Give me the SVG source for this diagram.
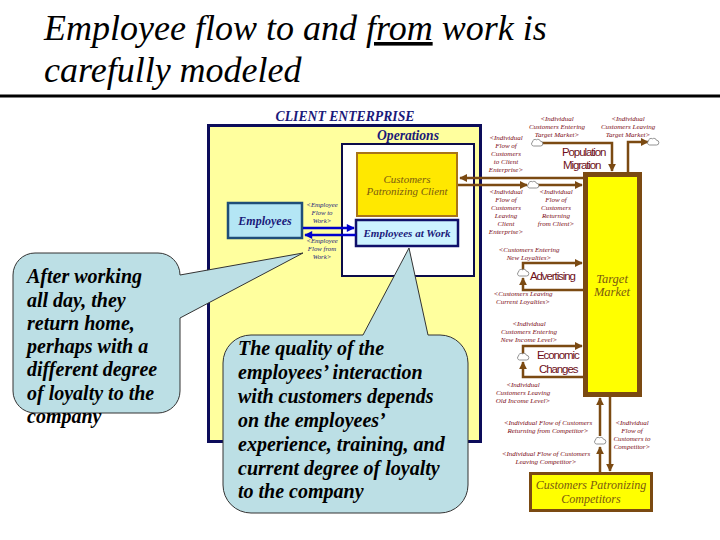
<svg xmlns="http://www.w3.org/2000/svg" xmlns:xlink="http://www.w3.org/1999/xlink" width="720" height="540" viewBox="0 0 720 540">
<style>
.title{font-family:'Liberation Serif','Times New Roman','DejaVu Serif',serif;font-style:italic;font-size:36px;fill:#000}
.call{font-family:'Liberation Serif','Times New Roman','DejaVu Serif',serif;font-style:italic;font-weight:bold;font-size:20px;fill:#000}
.lbl{font-family:'Liberation Serif','Times New Roman','DejaVu Serif',serif;font-style:italic;font-size:7px;fill:#7a0a14;text-anchor:middle}
.blbl{font-family:'Liberation Serif','Times New Roman','DejaVu Serif',serif;font-style:italic;font-size:6.8px;fill:#1a1a7a;text-anchor:middle}
.sans{font-family:'Liberation Sans',Arial,sans-serif;font-size:11.5px;fill:#6e0f1a;letter-spacing:-1.1px}
.navyb{font-family:'Liberation Serif','Times New Roman','DejaVu Serif',serif;font-style:italic;font-weight:bold;fill:#1a1a7a;text-anchor:middle}
.brown{font-family:'Liberation Serif','Times New Roman','DejaVu Serif',serif;font-style:italic;fill:#7a5a10;text-anchor:middle}
.flow{stroke:#7b4a12;stroke-width:2.5;fill:none}
.arr{marker-end:url(#ab)}
.bflow{stroke:#0000cc;stroke-width:2.5;fill:none;marker-end:url(#abl)}
.callout{fill:#bcdfe5;stroke:#333;stroke-width:1}
</style>
<defs>
<marker id="ab" viewBox="0 0 10 10" refX="9" refY="5" markerWidth="3.4" markerHeight="3.2" orient="auto" markerUnits="strokeWidth"><path d="M0,0 L10,5 L0,10 z" fill="#7b4a12"/></marker>
<marker id="abl" viewBox="0 0 10 10" refX="9" refY="5" markerWidth="4" markerHeight="3.2" orient="auto" markerUnits="strokeWidth"><path d="M0,0 L10,5 L0,10 z" fill="#0000cc"/></marker>
<g id="cloud"><path d="M-3.5,3 a2.2,2.2 0 0 1 -1,-4 a2.6,2.6 0 0 1 4,-2.2 a2.6,2.6 0 0 1 4,1.5 a2.2,2.2 0 0 1 0,4.7 z" fill="#fff" stroke="#777" stroke-width="0.8"/></g>
</defs>
<rect width="720" height="540" fill="#fff"/>

<g id="title">
<text class="title" x="44" y="40">Employee flow to and <tspan style="text-decoration:underline">from</tspan> work is</text>
<text class="title" x="44" y="82">carefully modeled</text>
<line x1="0" y1="96" x2="720" y2="96" stroke="#000" stroke-width="3"/>
</g>

<g id="client-enterprise">
<rect x="208.5" y="125.5" width="272" height="316" fill="#ffff9e" stroke="#0c0c5a" stroke-width="3"/>
<text class="navyb" x="345" y="121" font-size="13.7px">CLIENT ENTERPRISE</text>
</g>

<g id="operations">
<rect x="342" y="144" width="132" height="132" fill="#fff" stroke="#0c0c4a" stroke-width="2"/>
<text class="navyb" x="408" y="140" font-size="13.6px">Operations</text>
</g>

<g id="customers-patronizing-client">
<rect x="357" y="153" width="100" height="63" fill="#ffe800" stroke="#a8741a" stroke-width="2"/>
<text class="brown" x="407" y="183" font-size="11px">Customers</text>
<text class="brown" x="407" y="195" font-size="11px">Patronizing Client</text>
</g>

<g id="employees-at-work">
<rect x="356" y="220" width="102" height="26" fill="#cdf3ff" stroke="#10106a" stroke-width="2.5"/>
<text class="navyb" x="407" y="237" font-size="11px">Employees at Work</text>
</g>

<g id="employees">
<rect x="228" y="203" width="74" height="35" fill="#b4e6f5" stroke="#1f4e79" stroke-width="2.5"/>
<text class="navyb" x="265" y="225" font-size="12px">Employees</text>
</g>

<g id="target-market">
<rect x="585.5" y="174.5" width="54" height="220" fill="#ffff00" stroke="#7b4a12" stroke-width="5"/>
<text class="brown" x="612" y="283" font-size="12.5px">Target</text>
<text class="brown" x="612" y="296" font-size="12.5px">Market</text>
</g>

<g id="customers-patronizing-competitors">
<rect x="530.5" y="473.5" width="121" height="37" fill="#ffff00" stroke="#7b4a12" stroke-width="3"/>
<text class="brown" x="591" y="489" font-size="12px">Customers Patronizing</text>
<text class="brown" x="591" y="503" font-size="12px">Competitors</text>
</g>

<g id="population-migration">
<text class="sans" x="562" y="156">Population</text>
<text class="sans" x="563" y="169">Migration</text>
</g>
<g id="advertising"><text class="sans" x="530" y="280">Advertising</text></g>
<g id="economic-changes">
<text class="sans" x="537" y="359">Economic</text>
<text class="sans" x="539" y="373">Changes</text>
</g>

<g id="connectors">
<path class="bflow" d="M303,228 H354"/>
<path class="bflow" d="M356,235 H305"/>
<path class="flow arr" d="M583,178 H460"/>
<path class="flow arr" d="M458,185 H527"/>
<path class="flow arr" d="M538,185 H582"/>
<path class="flow arr" d="M541,143 H612 V171"/>
<path class="flow arr" d="M628,172 V142 H648"/>
<path class="flow arr" d="M523,270 V263 H582"/>
<path class="flow arr" d="M584,290 H523 V278"/>
<path class="flow arr" d="M523,354 V346 H582"/>
<path class="flow arr" d="M584,377 H523 V362"/>
<path class="flow arr" d="M600,472 V447"/>
<path class="flow arr" d="M600,436 V398"/>
<path class="flow arr" d="M610,397 V471"/>
<use xlink:href="#cloud" x="533" y="185"/>
<use xlink:href="#cloud" x="537" y="143"/>
<use xlink:href="#cloud" x="653" y="142"/>
<use xlink:href="#cloud" x="523" y="273"/>
<use xlink:href="#cloud" x="523" y="357"/>
<use xlink:href="#cloud" x="600" y="441"/>
</g>

<g id="labels">
<text class="blbl" x="322" y="207">&lt;Employee</text>
<text class="blbl" x="322" y="215">Flow to</text>
<text class="blbl" x="322" y="223">Work&gt;</text>
<text class="blbl" x="322" y="243">&lt;Employee</text>
<text class="blbl" x="322" y="251">Flow from</text>
<text class="blbl" x="322" y="259">Work&gt;</text>

<text class="lbl" x="557" y="121">&lt;Individual</text>
<text class="lbl" x="557" y="129">Customers Entering</text>
<text class="lbl" x="557" y="137">Target Market&gt;</text>
<text class="lbl" x="628" y="121">&lt;Individual</text>
<text class="lbl" x="628" y="129">Customers Leaving</text>
<text class="lbl" x="628" y="137">Target Market&gt;</text>
<text class="lbl" x="506" y="140">&lt;Individual</text>
<text class="lbl" x="506" y="148">Flow of</text>
<text class="lbl" x="506" y="156">Customers</text>
<text class="lbl" x="506" y="164">to Client</text>
<text class="lbl" x="506" y="172">Enterprise&gt;</text>
<text class="lbl" x="506" y="194">&lt;Individual</text>
<text class="lbl" x="506" y="202">Flow of</text>
<text class="lbl" x="506" y="210">Customers</text>
<text class="lbl" x="506" y="218">Leaving</text>
<text class="lbl" x="506" y="226">Client</text>
<text class="lbl" x="506" y="234">Enterprise&gt;</text>
<text class="lbl" x="556" y="194">&lt;Individual</text>
<text class="lbl" x="556" y="202">Flow of</text>
<text class="lbl" x="556" y="210">Customers</text>
<text class="lbl" x="556" y="218">Returning</text>
<text class="lbl" x="556" y="226">from Client&gt;</text>
<text class="lbl" x="529" y="252">&lt;Customers Entering</text>
<text class="lbl" x="529" y="260">New Loyalties&gt;</text>
<text class="lbl" x="523" y="296">&lt;Customers Leaving</text>
<text class="lbl" x="523" y="304">Current Loyalties&gt;</text>
<text class="lbl" x="529" y="326">&lt;Individual</text>
<text class="lbl" x="529" y="334">Customers Entering</text>
<text class="lbl" x="529" y="342">New Income Level&gt;</text>
<text class="lbl" x="523" y="387">&lt;Individual</text>
<text class="lbl" x="523" y="395">Customers Leaving</text>
<text class="lbl" x="523" y="403">Old Income Level&gt;</text>
<text class="lbl" x="548" y="425">&lt;Individual Flow of Customers</text>
<text class="lbl" x="548" y="433">Returning from Competitor&gt;</text>
<text class="lbl" x="546" y="456">&lt;Individual Flow of Customers</text>
<text class="lbl" x="546" y="464">Leaving Competitor&gt;</text>
<text class="lbl" x="632" y="425">&lt;Individual</text>
<text class="lbl" x="632" y="433">Flow of</text>
<text class="lbl" x="632" y="441">Customers to</text>
<text class="lbl" x="632" y="449">Competitor&gt;</text>
</g>

<g id="callout-left">
<path class="callout" d="M35,253 H158 A22,22 0 0 1 180,275 L303,253 L180,318 V391 A22,22 0 0 1 158,413 H35 A22,22 0 0 1 13,391 V275 A22,22 0 0 1 35,253 Z"/>
<text class="call" x="27" y="283">After working</text>
<text class="call" x="27" y="307">all day, they</text>
<text class="call" x="27" y="330">return home,</text>
<text class="call" x="27" y="353">perhaps with a</text>
<text class="call" x="27" y="376">different degree</text>
<text class="call" x="27" y="400">of loyalty to the</text>
<text class="call" x="27" y="423">company</text>
</g>

<g id="callout-center">
<path class="callout" d="M251,335 H363 L409,248 L428,335 H440 A28,28 0 0 1 468,363 V485 A28,28 0 0 1 440,513 H251 A28,28 0 0 1 223,485 V363 A28,28 0 0 1 251,335 Z"/>
<text class="call" x="238" y="355">The quality of the</text>
<text class="call" x="238" y="379">employees’ interaction</text>
<text class="call" x="238" y="403">with customers depends</text>
<text class="call" x="238" y="427">on the employees’</text>
<text class="call" x="238" y="451">experience, training, and</text>
<text class="call" x="238" y="475">current degree of loyalty</text>
<text class="call" x="238" y="498">to the company</text>
</g>
</svg>
